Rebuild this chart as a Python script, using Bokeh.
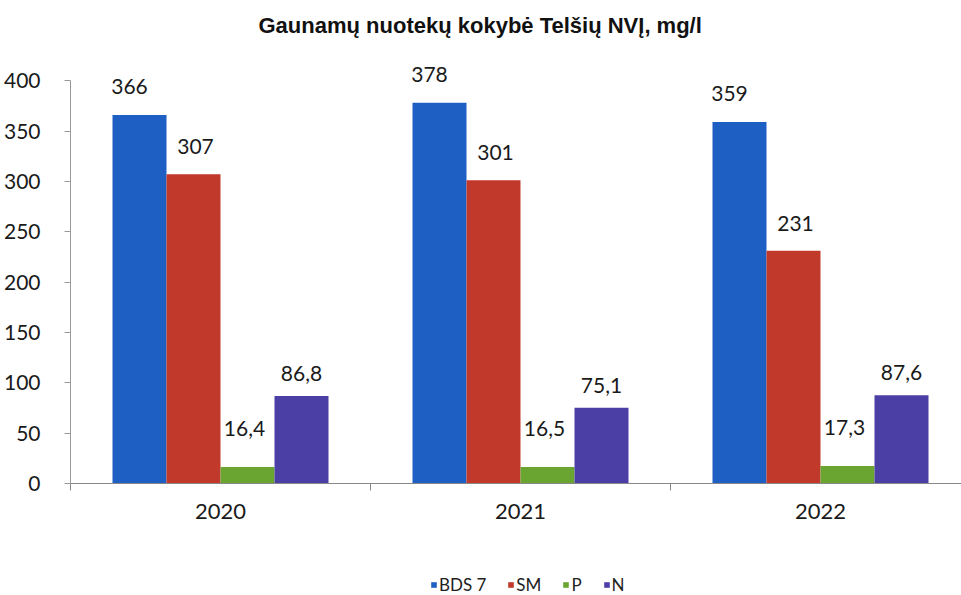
from bokeh.plotting import figure
from bokeh.layouts import column
from bokeh.models import Range1d, FixedTicker, Legend, LegendItem, ColumnDataSource
from bokeh.core.properties import value
from bokeh.embed import file_html
from bokeh.resources import INLINE

years = ["2020", "2021", "2022"]
series = ["BDS 7", "SM", "P", "N"]
bds7 = [366, 378, 359]
sm = [307, 301, 231]
p_vals = [16.4, 16.5, 17.3]
n_vals = [86.8, 75.1, 87.6]
y_ticks = [0, 50, 100, 150, 200, 250, 300, 350, 400]
title_text = "Gaunamų nuotekų kokybė Telšių NVĮ, mg/l"

colors = ["#1E5FC4", "#C0392B", "#6BA531", "#4B3FA6"]
offsets = [-0.27, -0.09, 0.09, 0.27]
label_dx = [-10, 2, -3, 0]
label_dy = [-21, -20, -31, -15]

# title strip
tf = figure(width=961, height=60, output_backend="svg", toolbar_location=None,
            x_range=Range1d(0, 1), y_range=Range1d(0, 1),
            min_border_left=70, min_border_right=0, min_border_top=0,
            min_border_bottom=0)
tf.outline_line_color = None
tf.axis.visible = False
tf.grid.visible = False
tf.title.text = title_text
tf.title.align = "left"
tf.title.offset = 188
tf.title.text_font = "Liberation Sans"
tf.title.text_font_style = "bold"
tf.title.text_font_size = "22px"
tf.title.text_color = "#111111"
tf.title.standoff = 20

# main chart
p = figure(width=961, height=495, output_backend="svg", toolbar_location=None,
           x_range=Range1d(0, 2.97), y_range=Range1d(0, 420),
           min_border_left=70, min_border_right=0, min_border_top=0,
           min_border_bottom=72)
p.outline_line_color = None
p.xgrid.visible = False
p.ygrid.visible = False

for k, vals in enumerate([bds7, sm, p_vals, n_vals]):
    xs = [i + 0.5 + offsets[k] for i in range(len(years))]
    labels = [f"{v:g}".replace(".", ",") for v in vals]
    src = ColumnDataSource(dict(x=xs, top=vals, lab=labels))
    p.vbar(x="x", top="top", width=0.18, bottom=0, source=src,
           fill_color=colors[k], line_color=None)
    p.text(x="x", y="top", text="lab", source=src, text_align="center",
           text_baseline="bottom", x_offset=label_dx[k], y_offset=label_dy[k],
           text_font=value("Lato"), text_font_size="21px", text_color="#1a1a1a")

xa = p.xaxis[0]
xa.ticker = FixedTicker(ticks=[0.5, 1.5, 2.5], minor_ticks=[0, 1, 2, 3])
xa.major_label_overrides = {0.5: "2020", 1.5: "2021", 2.5: "2022"}
xa.major_tick_out = 0
xa.major_tick_in = 0
xa.minor_tick_out = 7
xa.minor_tick_in = 0
xa.minor_tick_line_color = "#888888"
xa.axis_line_color = "#888888"
xa.major_label_standoff = 13
xa.major_label_text_font = "Lato"
xa.major_label_text_font_size = "22px"
xa.major_label_text_color = "#1a1a1a"

ya = p.yaxis[0]
ya.ticker = FixedTicker(ticks=y_ticks, minor_ticks=[])
ya.bounds = (0, 400)
ya.major_tick_out = 6
ya.major_tick_in = 0
ya.major_tick_line_color = "#999999"
ya.axis_line_color = "#999999"
ya.major_label_standoff = 24
ya.major_label_text_font = "Lato"
ya.major_label_text_font_size = "21px"
ya.major_label_text_color = "#1a1a1a"

# legend strip below the chart (dummy bars lie outside its visible range)
lf = figure(width=961, height=40, output_backend="svg", toolbar_location=None,
            x_range=Range1d(0, 1), y_range=Range1d(0, 1),
            min_border_left=0, min_border_right=0, min_border_top=0,
            min_border_bottom=0)
lf.outline_line_color = None
lf.axis.visible = False
lf.grid.visible = False
items = []
for k in range(len(series)):
    r = lf.vbar(x=[5], top=[1], width=0.1, fill_color=colors[k], line_color=None)
    items.append(LegendItem(label=series[k], renderers=[r]))
legend = Legend(items=items, orientation="horizontal", location=(360, 0),
                glyph_width=7, glyph_height=7, label_text_font="Lato",
                label_text_font_size="17px", label_text_color="#222222",
                spacing=21, label_standoff=2, label_width=5, margin=0, padding=0,
                border_line_color=None, background_fill_alpha=0)
lf.add_layout(legend, "center")

open("out.html", "w").write(file_html(column(tf, p, lf, spacing=0), INLINE))
